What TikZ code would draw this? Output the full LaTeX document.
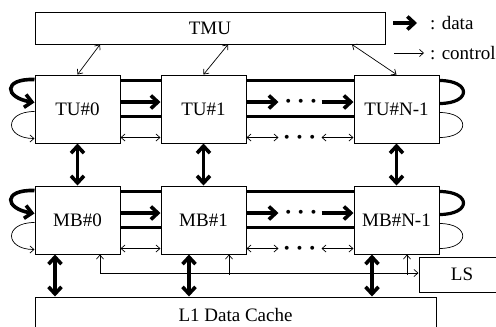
\documentclass[tikz,border=0pt]{standalone}
\usepackage{fontspec}
\setmainfont{Liberation Serif}
\usepackage{amsmath}
\usepackage{tikz}
\usetikzlibrary{positioning, arrows.meta}

\begin{document}
\begin{tikzpicture}[
    x=1pt, y=-1pt,
    font=\fontsize{19}{22}\selectfont,
    box/.style={draw, line width=1pt, fill=white, minimum width=85pt, minimum height=68pt, inner sep=0pt},
    wide/.style={draw, line width=1pt, fill=white, inner sep=0pt},
    ring/.style={line width=3.2pt},
    data/.style={line width=3.6pt, -{Straight Barb[length=7pt, width=13pt]}},
    bus/.style={line width=3.6pt, {Straight Barb[length=7pt, width=13pt]}-{Straight Barb[length=7pt, width=13pt]}},
    ctrl/.style={line width=0.7pt},
    tip/.tip={Straight Barb[length=4pt, width=7pt]},
    dots/.style={font=\fontsize{30}{30}\selectfont\boldmath, inner sep=0pt}
  ]
    \useasboundingbox (0,0) rectangle (496,327);

    % units
    \node[box] (TU0) at (77.5,109) {TU\#0};
    \node[box, right=40pt of TU0] (TU1) {TU\#1};
    \node[box, right=107pt of TU1] (TUN) {TU\#N-1};
    \node[box, below=42pt of TU0] (MB0) {MB\#0};
    \node[box, below=42pt of TU1] (MB1) {MB\#1};
    \node[box, below=42pt of TUN] (MBN) {MB\#N-1};

    \node[wide, minimum width=350pt, minimum height=32pt] (TMU) at (210,28) {TMU};
    \node[wide, minimum width=401pt, minimum height=36pt] (L1) at (235.5,315) {L1 Data Cache};
    \node[wide, minimum width=86pt, minimum height=35pt] (LS) at (462,274.5) {LS};

    % legend
    \node[anchor=west, inner sep=0pt] (datalbl) at (430,23) {: data};
    \node[anchor=west, inner sep=0pt] (ctrllbl) at (430,53) {: control};
    \draw[data] ([xshift=-37pt]datalbl.west) -- ([xshift=-13pt]datalbl.west);
    \draw[ctrl, -tip] ([xshift=-36pt]ctrllbl.west) -- ([xshift=-6pt]ctrllbl.west);

    % TMU <-> TU
    \draw[ctrl, tip-tip] ([xshift=-110pt]TMU.south) -- (TU0.north);
    \draw[ctrl, tip-tip] ([xshift=18pt]TMU.south) -- (TU1.north);
    \draw[ctrl, tip-tip] ([xshift=142pt]TMU.south) -- (TUN.north);

    % rows
    \foreach \a/\b/\c in {TU0/TU1/TUN, MB0/MB1/MBN} {
      \draw[ring] ([yshift=-6pt]\a.north east) -- ([yshift=-6pt]\b.north west);
      \draw[ring] ([yshift=-6pt]\b.north east) -- ([yshift=-6pt]\c.north west);
      \draw[ring] ([yshift=-42pt]\a.north east) -- ([yshift=-42pt]\b.north west);
      \draw[ring] ([yshift=-42pt]\b.north east) -- ([yshift=-42pt]\c.north west);
      \draw[data] ([yshift=-27.5pt]\a.north east) -- ([yshift=-27.5pt]\b.north west);
      \draw[data] ([yshift=-27.5pt]\b.north east) -- ++(32,0) node[dots, right=4pt] {$\cdots$};
      \draw[data] ([yshift=-27.5pt,xshift=-32pt]\c.north west) -- ([yshift=-27.5pt]\c.north west);
      \draw[ctrl, tip-tip] ([yshift=-63pt]\a.north east) -- ([yshift=-63pt]\b.north west);
      \draw[ctrl, tip-tip] ([yshift=-63pt]\b.north east) -- ++(32,0) node[dots, right=4pt] {$\cdots$};
      \draw[ctrl, tip-tip] ([yshift=-63pt,xshift=-32pt]\c.north west) -- ([yshift=-63pt]\c.north west);
      % loops
      \draw[data] ([yshift=-5pt]\a.north west) .. controls +(-32,-1) and +(-30,-5) .. ([yshift=-28pt]\a.north west);
      \draw[ctrl, -tip] ([yshift=-37pt]\a.north west) .. controls +(-31,0) and +(-30,0) .. ([yshift=-64pt]\a.north west);
      \draw[ring] ([yshift=-6pt]\c.north east) .. controls +(32,0) and +(32,0) .. ([yshift=-29pt]\c.north east);
      \draw[ctrl] ([yshift=-38pt]\c.north east) .. controls +(31,0) and +(31,0) .. ([yshift=-63pt]\c.north east);
    }

    % TU <-> MB
    \draw[bus] (TU0.south) -- (MB0.north);
    \draw[bus] (TU1.south) -- (MB1.north);
    \draw[bus] (TUN.south) -- (MBN.north);

    % MB <-> L1
    \draw[bus] ([xshift=-22.5pt]MB0.south) -- ([xshift=-22.5pt]MB0.south |- L1.north);
    \draw[bus] ([xshift=-14.5pt]MB1.south) -- ([xshift=-14.5pt]MB1.south |- L1.north);
    \draw[bus] ([xshift=-24.5pt]MBN.south) -- ([xshift=-24.5pt]MBN.south |- L1.north);

    % LS control
    \draw[ctrl, tip-tip] ([xshift=22.5pt]MB0.south) |- ([yshift=1.5pt]LS.west);
    \draw[ctrl, tip-] ([xshift=25.5pt]MB1.south) -- ++(0,20);
    \draw[ctrl, tip-] ([xshift=10.5pt]MBN.south) -- ++(0,20);
  \end{tikzpicture}
\end{document}
